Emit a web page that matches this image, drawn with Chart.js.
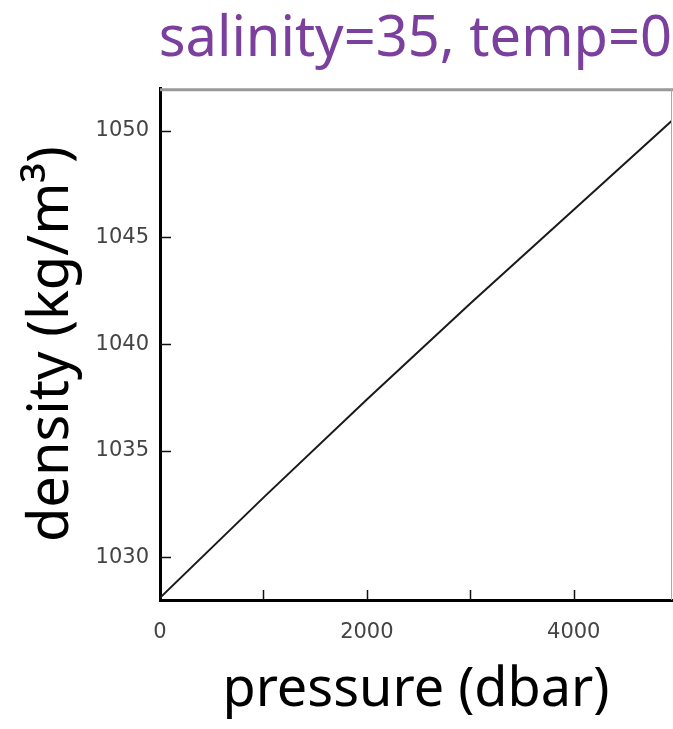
<!DOCTYPE html>
<html>
<head>
<meta charset="utf-8">
<script src="https://cdn.jsdelivr.net/npm/chart.js@4"></script>
<style>
  html, body { margin: 0; padding: 0; background: #fff; }
  #wrap { position: relative; width: 673px; height: 729px; }
</style>
</head>
<body>
<div id="wrap"><canvas id="ch-densidad"></canvas></div>
<script>
// datos
const presiones = [0, 1000, 2000, 3000, 4000, 5000];
const densidades = [1028.1, 1032.8, 1037.4, 1041.9, 1046.3, 1050.7];
const ticksX = [0, 1000, 2000, 3000, 4000];
const ticksY = [1030, 1035, 1040, 1045, 1050];

const FUENTE = "'Noto Sans', 'DejaVu Sans', sans-serif";
const FUENTE_TICKS = "'DejaVu Sans', Arial, sans-serif";

// marcas de los ejes hacia dentro y marco superior/derecho gris
const pluginMarco = {
  id: "marco",
  afterDraw(chart) {
    const { ctx, chartArea, scales } = chart;
    const { left, right, top, bottom } = chartArea;
    ctx.save();
    ctx.strokeStyle = "#999";
    ctx.lineWidth = 3;
    ctx.beginPath();
    ctx.moveTo(left, top + 1.5);
    ctx.lineTo(right + 2, top + 1.5);
    ctx.stroke();
    ctx.lineWidth = 1;
    ctx.strokeStyle = "#aaa";
    ctx.beginPath();
    ctx.moveTo(right - 0.5, top);
    ctx.lineTo(right - 0.5, bottom);
    ctx.stroke();

    ctx.strokeStyle = "#111";
    ctx.lineWidth = 1.5;
    ticksY.forEach(v => {
      const y = Math.round(scales.y.getPixelForValue(v)) + 0.5;
      ctx.beginPath();
      ctx.moveTo(left, y);
      ctx.lineTo(left + 11, y);
      ctx.stroke();
    });
    ticksX.slice(1).forEach(v => {
      const x = Math.round(scales.x.getPixelForValue(v)) + 0.5;
      ctx.beginPath();
      ctx.moveTo(x, bottom);
      ctx.lineTo(x, bottom - 10);
      ctx.stroke();
    });
    ctx.restore();
  }
};

new Chart(document.getElementById("ch-densidad"), {
  type: "line",
  data: {
    datasets: [
      {
        data: presiones.map((p, i) => ({ x: p, y: densidades[i] })),
        borderColor: "#1a1a1a",
        borderWidth: 2,
        pointRadius: 0,
        tension: 0
      }
    ]
  },
  plugins: [pluginMarco],
  options: {
    responsive: true,
    maintainAspectRatio: false,
    animation: false,
    layout: { padding: { left: 0, right: 1, top: 0, bottom: 0 } },
    plugins: {
      legend: { display: false },
      tooltip: { enabled: false },
      title: {
        display: true,
        text: "salinity=35, temp=0",
        align: "end",
        color: "#7b3f9e",
        font: { family: FUENTE, size: 56, weight: "normal", lineHeight: 1.2 },
        padding: { top: 6, bottom: 15 }
      }
    },
    scales: {
      x: {
        type: "linear",
        min: 0,
        max: 4950,
        afterBuildTicks: s => { s.ticks = ticksX.map(v => ({ value: v })); },
        afterFit: s => { s.height = 129; },
        grid: { display: false },
        border: { color: "#000", width: 3 },
        ticks: {
          color: "#444",
          font: { family: FUENTE_TICKS, size: 21 },
          padding: 12,
          maxRotation: 0,
          callback: v => (v % 2000 === 0 ? String(v) : "")
        },
        title: {
          display: true,
          text: "pressure (dbar)",
          color: "#000",
          font: { family: FUENTE, size: 54 },
          padding: { top: 4, bottom: 6 }
        }
      },
      y: {
        min: 1028,
        max: 1052,
        afterBuildTicks: s => { s.ticks = ticksY.map(v => ({ value: v })); },
        afterFit: s => { s.width = 160; },
        grid: { display: false },
        border: { color: "#000", width: 3 },
        ticks: {
          color: "#444",
          font: { family: FUENTE_TICKS, size: 21 },
          padding: 3,
          callback: v => String(v)
        },
        title: {
          display: true,
          text: "density (kg/m³)",
          color: "#000",
          font: { family: FUENTE, size: 56 },
          padding: { top: 18, bottom: 0 }
        }
      }
    }
  }
});
</script>
</body>
</html>
